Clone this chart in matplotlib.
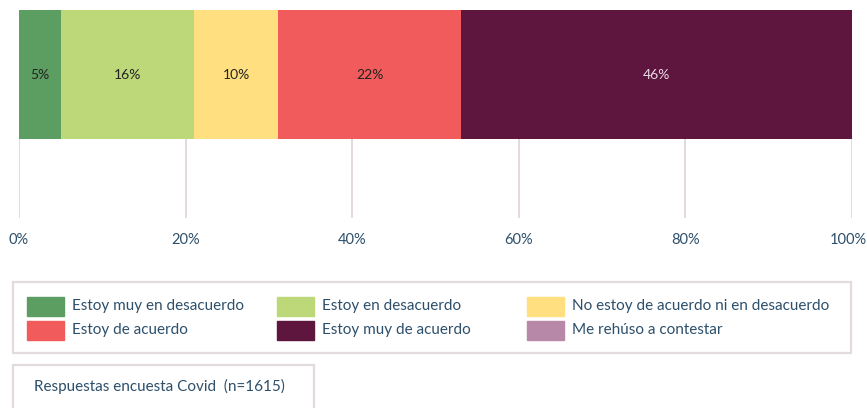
import matplotlib
matplotlib.use('Agg')
import matplotlib.pyplot as plt
from matplotlib.patches import Rectangle
from matplotlib.transforms import ScaledTranslation

categories = ['Estoy muy en desacuerdo', 'Estoy en desacuerdo',
              'No estoy de acuerdo ni en desacuerdo', 'Estoy de acuerdo',
              'Estoy muy de acuerdo', 'Me rehúso a contestar']
values = [5.0, 16.0, 10.1, 22.0, 46.9, 0.0]
colors = ['#5c9e62', '#bdd879', '#ffdf7f', '#f15b5b', '#5e153e', '#b888a8']
label_colors = ['#222222', '#222222', '#222222', '#222222', '#e8dde6', '#222222']
ticks = [0, 20, 40, 60, 80, 100]
note = 'Respuestas encuesta Covid  (n=1615)'

plt.rcParams['font.family'] = ['Lato', 'DejaVu Sans']
txt = '#2c4f6b'
W, H = 867, 408
fig = plt.figure(figsize=(W / 100, H / 100), dpi=100)
ax = fig.add_axes([19 / W, 1 - 218 / H, (852 - 19) / W, 208 / H])

left = 0
for v, c, lc in zip(values, colors, label_colors):
    if v > 0:
        ax.barh(0, v, left=left, height=1, align='edge', color=c, zorder=2)
        ax.text(left + v / 2, 0.5, str(int(v)) + '%', ha='center', va='center',
                fontsize=10, color=lc, zorder=3)
    left += v

ax.set_xlim(0, 100)
ax.set_ylim(-0.612, 1)
ax.set_xticks(ticks)
ax.set_xticklabels([str(t) + '%' for t in ticks], color=txt, fontsize=10.5)
ax.tick_params(axis='x', length=0, pad=11)
lab = ax.get_xticklabels()[-1]
lab.set_transform(lab.get_transform() + ScaledTranslation(-0.04, 0, fig.dpi_scale_trans))
ax.set_yticks([])
ax.grid(axis='x', color='#ddd3d7', linewidth=1.2, zorder=0)
for s in ax.spines.values():
    s.set_visible(False)

# legend box
fig.patches.append(Rectangle((13 / W, 1 - 353 / H), (851 - 13) / W, 71 / H,
                             transform=fig.transFigure, fill=False,
                             edgecolor='#e2dadc', linewidth=1.6))
col_x = [27, 277, 527]
row_y = [306, 330]
for i, (cat, c) in enumerate(zip(categories, colors)):
    x = col_x[i % 3]
    y = row_y[i // 3]
    fig.patches.append(Rectangle((x / W, 1 - (y + 9.5) / H), 37 / W, 19 / H,
                                 transform=fig.transFigure, color=c))
    fig.text((x + 45) / W, 1 - y / H, cat, ha='left', va='center',
             fontsize=11, color=txt)

# note box
fig.patches.append(Rectangle((13 / W, -0.02), (314 - 13) / W, (408 - 365) / H + 0.02,
                             transform=fig.transFigure, fill=False,
                             edgecolor='#e2dadc', linewidth=1.6))
fig.text(34 / W, 1 - 386 / H, note, ha='left', va='center', fontsize=11, color=txt)

fig.savefig('out.png', dpi=100)
